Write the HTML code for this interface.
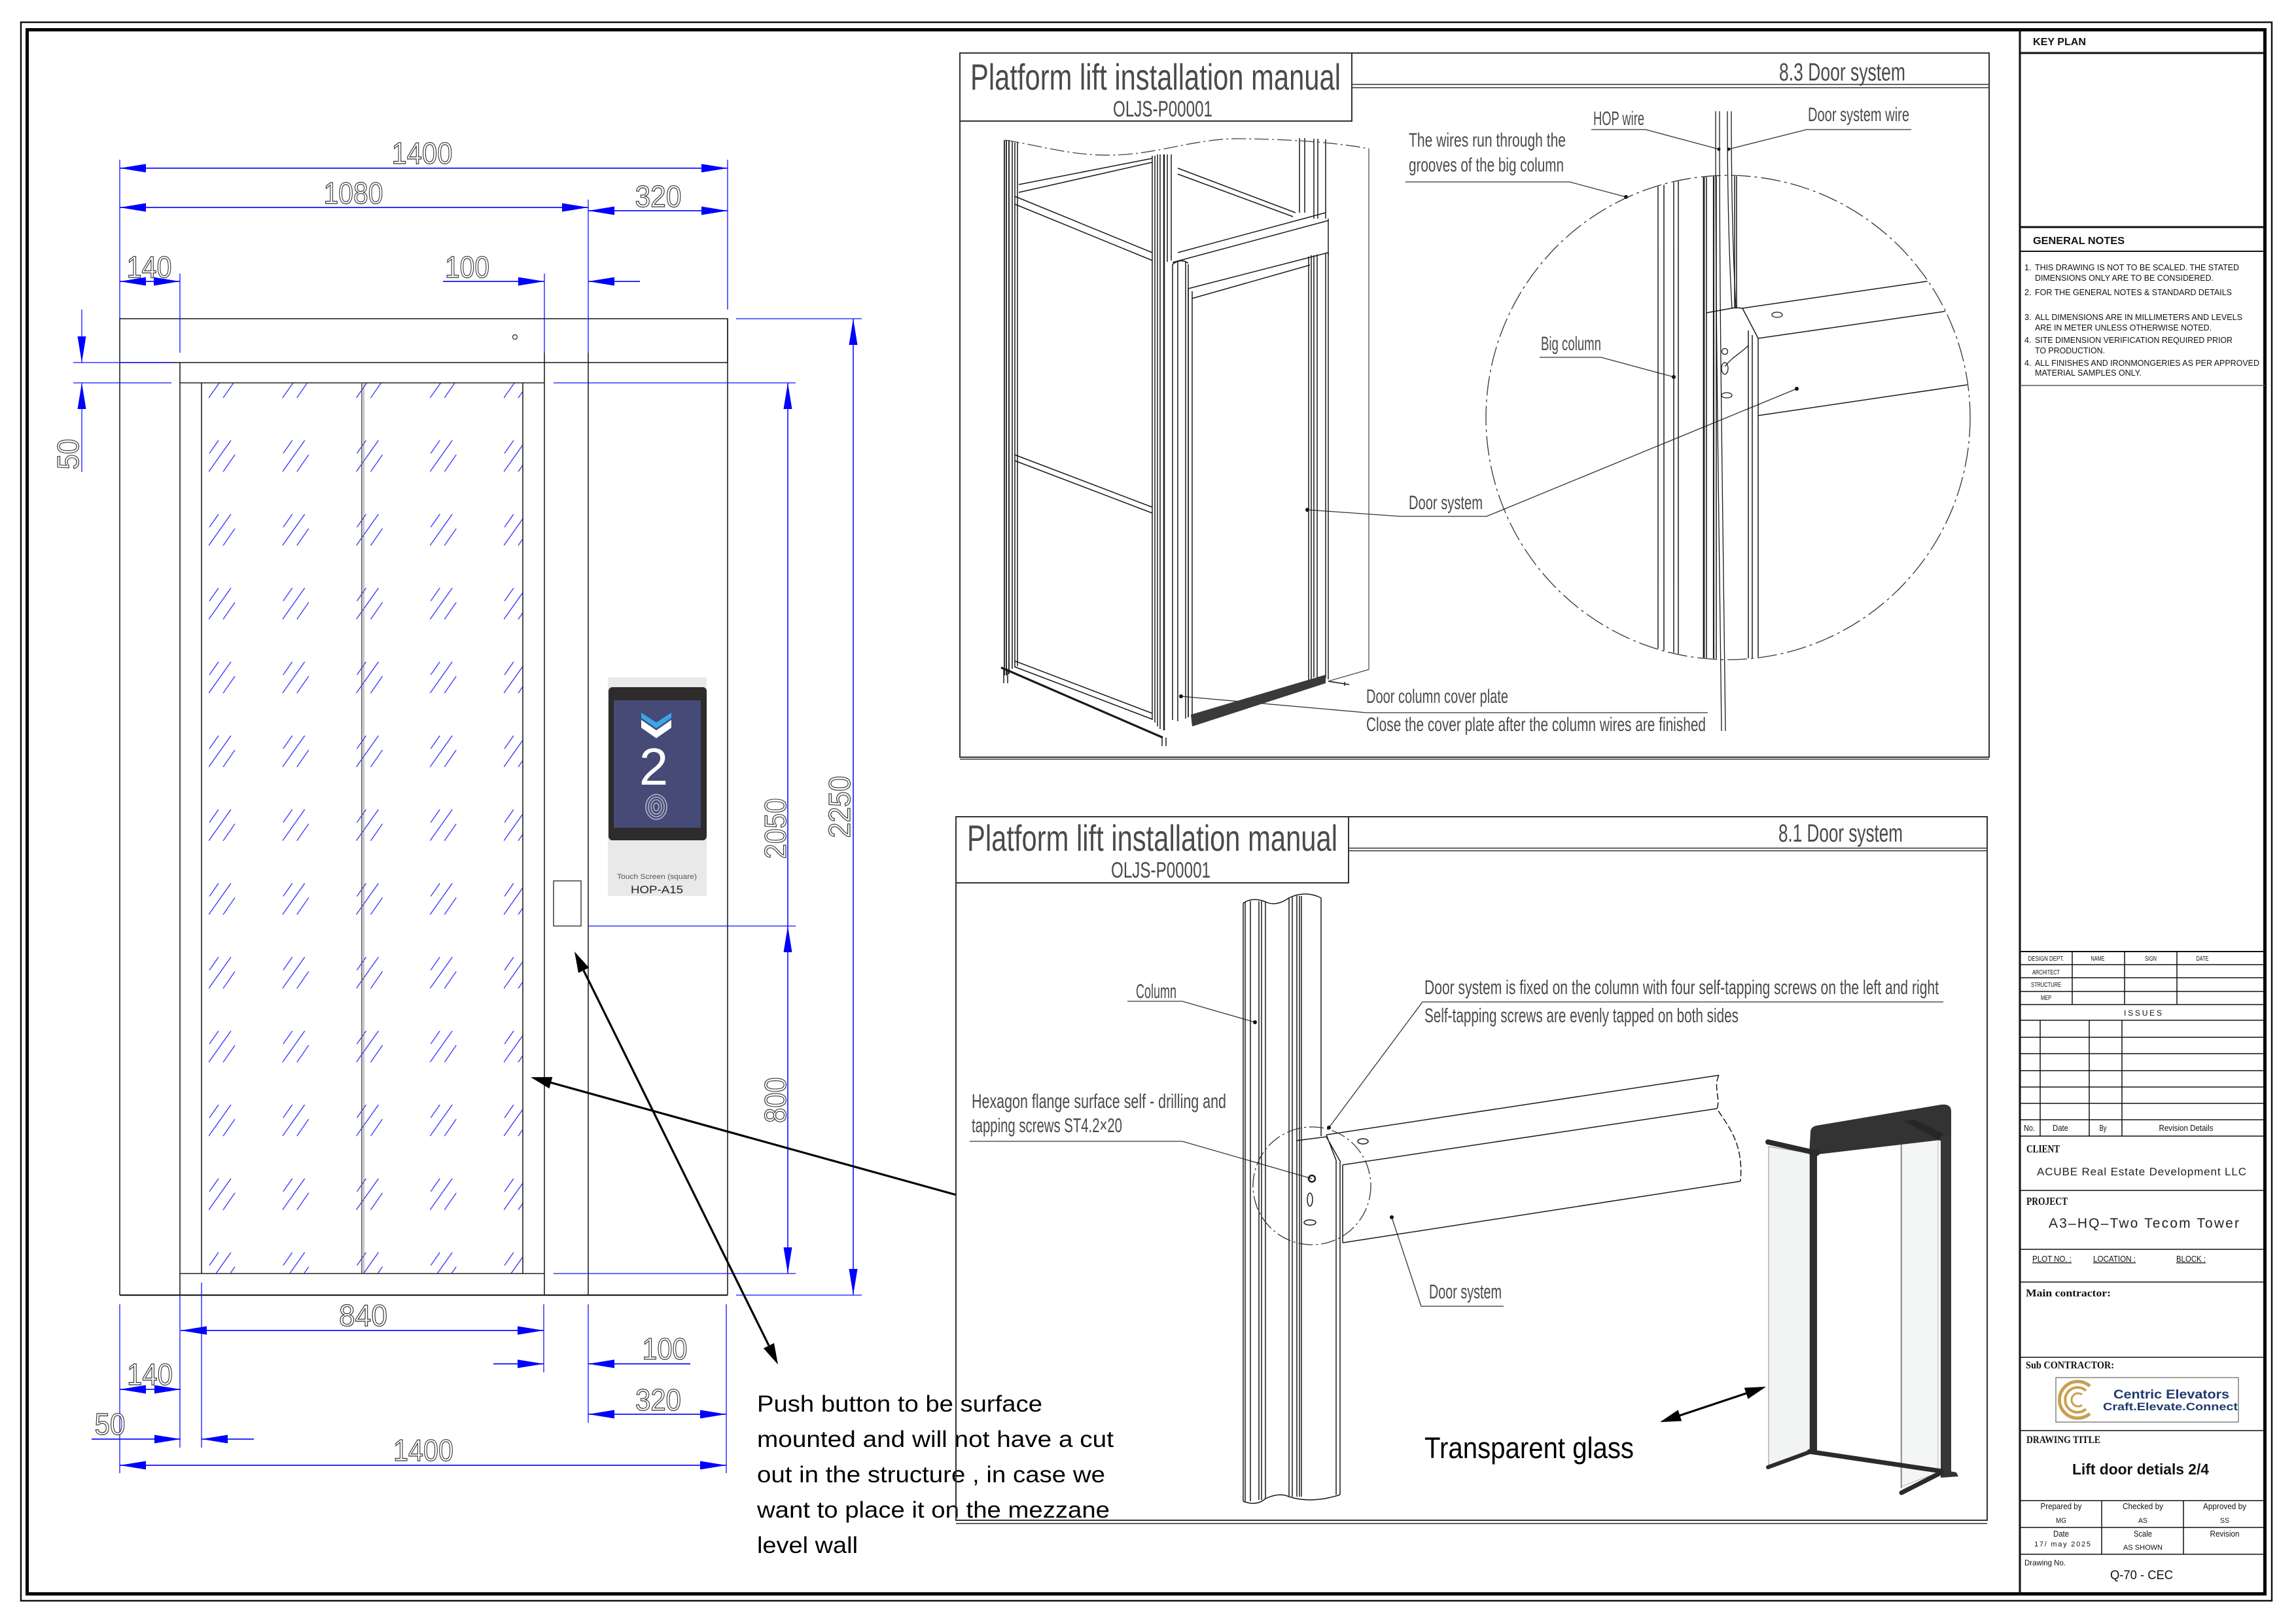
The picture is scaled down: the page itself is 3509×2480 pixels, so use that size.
<!DOCTYPE html>
<html><head><meta charset="utf-8">
<style>
html,body{margin:0;padding:0;background:#fff;}
svg{display:block;}
text{font-family:"Liberation Sans",Arial,sans-serif;}
.cad{fill:#4a4a4a;}
.serif{font-family:"Liberation Serif","Times New Roman",serif;font-weight:bold;}
</style></head><body>
<svg width="3509" height="2480" viewBox="0 0 3509 2480" xmlns="http://www.w3.org/2000/svg">
<defs>
  <pattern id="glassHatch" patternUnits="userSpaceOnUse" x="319" y="560" width="112.75" height="112.8">
    <path d="M0 48 L34 0 M22 48 L40 22 M1 20 L15 0" stroke="#1f1fff" stroke-width="1.2" fill="none"/>
  </pattern>
  <clipPath id="detailTop"><circle cx="2641" cy="638" r="369"/></clipPath>
</defs>
<rect x="0" y="0" width="3509" height="2480" fill="#fff"/>

<!-- ===== Sheet borders ===== -->
<rect x="32" y="34" width="3440" height="2412" fill="none" stroke="#111" stroke-width="2.5"/>
<rect x="41.5" y="45.5" width="3420" height="2390" fill="none" stroke="#000" stroke-width="5"/>

<!-- ===== Title block ===== -->
<g stroke="#111" fill="none">
  <line x1="3087" y1="45" x2="3087" y2="2435" stroke-width="3"/>
  <line x1="3087" y1="81" x2="3462" y2="81" stroke-width="3"/>
  <line x1="3087" y1="347" x2="3462" y2="347" stroke-width="3"/>
  <line x1="3087" y1="384" x2="3462" y2="384" stroke-width="2"/>
  <line x1="3087" y1="589" x2="3462" y2="589" stroke-width="1.5" stroke="#555"/>
  <line x1="3087" y1="1454" x2="3462" y2="1454" stroke-width="2"/>
  <line x1="3087" y1="1474" x2="3462" y2="1474" stroke-width="1.5"/>
  <line x1="3087" y1="1494" x2="3462" y2="1494" stroke-width="1.5"/>
  <line x1="3087" y1="1515" x2="3462" y2="1515" stroke-width="1.5"/>
  <line x1="3087" y1="1535" x2="3462" y2="1535" stroke-width="1.5"/>
  <line x1="3087" y1="1559" x2="3462" y2="1559" stroke-width="1.5"/>
  <line x1="3087" y1="1585" x2="3462" y2="1585" stroke-width="1.5"/>
  <line x1="3087" y1="1610" x2="3462" y2="1610" stroke-width="1.5"/>
  <line x1="3087" y1="1636" x2="3462" y2="1636" stroke-width="1.5"/>
  <line x1="3087" y1="1661" x2="3462" y2="1661" stroke-width="1.5"/>
  <line x1="3087" y1="1686" x2="3462" y2="1686" stroke-width="1.5"/>
  <line x1="3087" y1="1711" x2="3462" y2="1711" stroke-width="1.5"/>
  <line x1="3087" y1="1736" x2="3462" y2="1736" stroke-width="1.5"/>
  <line x1="3087" y1="1819" x2="3462" y2="1819" stroke-width="1.5"/>
  <line x1="3087" y1="1909" x2="3462" y2="1909" stroke-width="1.5"/>
  <line x1="3087" y1="1959" x2="3462" y2="1959" stroke-width="1.5"/>
  <line x1="3087" y1="2074" x2="3462" y2="2074" stroke-width="1.5"/>
  <line x1="3087" y1="2186" x2="3462" y2="2186" stroke-width="1.5"/>
  <line x1="3087" y1="2293" x2="3462" y2="2293" stroke-width="1.5"/>
  <line x1="3087" y1="2334" x2="3462" y2="2334" stroke-width="1.5"/>
  <line x1="3087" y1="2375" x2="3462" y2="2375" stroke-width="1.5"/>
  <line x1="3167" y1="1454" x2="3167" y2="1535" stroke-width="1.5"/>
  <line x1="3247" y1="1454" x2="3247" y2="1535" stroke-width="1.5"/>
  <line x1="3327" y1="1454" x2="3327" y2="1535" stroke-width="1.5"/>
  <line x1="3118" y1="1559" x2="3118" y2="1736" stroke-width="1.5"/>
  <line x1="3193" y1="1559" x2="3193" y2="1736" stroke-width="1.5"/>
  <line x1="3243" y1="1559" x2="3243" y2="1736" stroke-width="1.5"/>
  <line x1="3212" y1="2293" x2="3212" y2="2375" stroke-width="1.5"/>
  <line x1="3337" y1="2293" x2="3337" y2="2375" stroke-width="1.5"/>
</g>

<g fill="#111">
  <text x="3107" y="69" font-size="16" font-weight="bold" textLength="81" lengthAdjust="spacingAndGlyphs">KEY PLAN</text>
  <text x="3107" y="373" font-size="16" font-weight="bold" textLength="140" lengthAdjust="spacingAndGlyphs">GENERAL NOTES</text>
  <g font-size="12.5">
    <text x="3094" y="413">1.</text><text x="3110" y="413" textLength="312" lengthAdjust="spacingAndGlyphs">THIS DRAWING IS NOT TO BE SCALED. THE STATED</text>
    <text x="3110" y="429" textLength="273" lengthAdjust="spacingAndGlyphs">DIMENSIONS ONLY ARE TO BE CONSIDERED.</text>
    <text x="3094" y="451">2.</text><text x="3110" y="451" textLength="301" lengthAdjust="spacingAndGlyphs">FOR THE GENERAL NOTES &amp; STANDARD DETAILS</text>
    <text x="3094" y="489">3.</text><text x="3110" y="489" textLength="317" lengthAdjust="spacingAndGlyphs">ALL DIMENSIONS  ARE IN MILLIMETERS AND LEVELS</text>
    <text x="3110" y="505" textLength="270" lengthAdjust="spacingAndGlyphs">ARE IN METER UNLESS OTHERWISE NOTED.</text>
    <text x="3094" y="524">4.</text><text x="3110" y="524" textLength="302" lengthAdjust="spacingAndGlyphs">SITE DIMENSION VERIFICATION REQUIRED PRIOR</text>
    <text x="3110" y="540" textLength="107" lengthAdjust="spacingAndGlyphs">TO PRODUCTION.</text>
    <text x="3094" y="559">4.</text><text x="3110" y="559" textLength="343" lengthAdjust="spacingAndGlyphs">ALL FINISHES AND IRONMONGERIES AS PER APPROVED</text>
    <text x="3110" y="574" textLength="163" lengthAdjust="spacingAndGlyphs">MATERIAL SAMPLES ONLY.</text>
  </g>
  <g font-size="10.5" text-anchor="middle">
    <text x="3127" y="1468" textLength="55" lengthAdjust="spacingAndGlyphs">DESIGN DEPT.</text>
    <text x="3206" y="1468" textLength="21" lengthAdjust="spacingAndGlyphs">NAME</text>
    <text x="3287" y="1468" textLength="18" lengthAdjust="spacingAndGlyphs">SIGN</text>
    <text x="3366" y="1468" textLength="19" lengthAdjust="spacingAndGlyphs">DATE</text>
    <text x="3127" y="1489" textLength="42" lengthAdjust="spacingAndGlyphs">ARCHITECT</text>
    <text x="3127" y="1508" textLength="46" lengthAdjust="spacingAndGlyphs">STRUCTURE</text>
    <text x="3127" y="1528" textLength="16" lengthAdjust="spacingAndGlyphs">MEP</text>
  </g>
  <text x="3275" y="1552" font-size="12" text-anchor="middle" textLength="58" lengthAdjust="spacing">ISSUES</text>
  <g font-size="12.5">
    <text x="3093" y="1728" textLength="17" lengthAdjust="spacingAndGlyphs">No.</text>
    <text x="3149" y="1728" text-anchor="middle" textLength="24" lengthAdjust="spacingAndGlyphs">Date</text>
    <text x="3214" y="1728" text-anchor="middle" textLength="11" lengthAdjust="spacingAndGlyphs">By</text>
    <text x="3341" y="1728" text-anchor="middle" textLength="83" lengthAdjust="spacingAndGlyphs">Revision Details</text>
  </g>
  <text class="serif" x="3097" y="1761" font-size="17" textLength="51" lengthAdjust="spacingAndGlyphs">CLIENT</text>
  <text x="3113" y="1796" font-size="17" textLength="320" lengthAdjust="spacing" fill="#222">ACUBE Real Estate Development LLC</text>
  <text class="serif" x="3097" y="1841" font-size="17" textLength="63" lengthAdjust="spacingAndGlyphs">PROJECT</text>
  <text x="3131" y="1876" font-size="21" textLength="291" lengthAdjust="spacing" fill="#222">A3–HQ–Two Tecom Tower</text>
  <g font-size="13" text-decoration="underline">
    <text x="3106" y="1928" textLength="60" lengthAdjust="spacingAndGlyphs">PLOT NO. :</text>
    <text x="3199" y="1928" textLength="65" lengthAdjust="spacingAndGlyphs">LOCATION :</text>
    <text x="3326" y="1928" textLength="45" lengthAdjust="spacingAndGlyphs">BLOCK :</text>
  </g>
  <text class="serif" x="3096" y="1981" font-size="16" textLength="130" lengthAdjust="spacingAndGlyphs">Main  contractor:</text>
  <text class="serif" x="3096" y="2091" font-size="16" textLength="135" lengthAdjust="spacingAndGlyphs">Sub  CONTRACTOR:</text>
  <text class="serif" x="3097" y="2205" font-size="16" textLength="113" lengthAdjust="spacingAndGlyphs">DRAWING  TITLE</text>
  <text x="3167" y="2253" font-size="23" font-weight="bold" textLength="209" lengthAdjust="spacingAndGlyphs">Lift door detials 2/4</text>
  <g font-size="13" text-anchor="middle">
    <text x="3150" y="2306" textLength="63" lengthAdjust="spacingAndGlyphs">Prepared by</text>
    <text x="3275" y="2306" textLength="62" lengthAdjust="spacingAndGlyphs">Checked by</text>
    <text x="3400" y="2306" textLength="66" lengthAdjust="spacingAndGlyphs">Approved by</text>
    <text x="3150" y="2348" textLength="24" lengthAdjust="spacingAndGlyphs">Date</text>
    <text x="3275" y="2348" textLength="28" lengthAdjust="spacingAndGlyphs">Scale</text>
    <text x="3400" y="2348" textLength="45" lengthAdjust="spacingAndGlyphs">Revision</text>
  </g>
  <g font-size="11" text-anchor="middle">
    <text x="3150" y="2327" textLength="16" lengthAdjust="spacingAndGlyphs">MG</text>
    <text x="3275" y="2327" textLength="14" lengthAdjust="spacingAndGlyphs">AS</text>
    <text x="3400" y="2327" textLength="14" lengthAdjust="spacingAndGlyphs">SS</text>
    <text x="3152" y="2363" textLength="86" lengthAdjust="spacing">17/ may 2025</text>
    <text x="3275" y="2368" textLength="60" lengthAdjust="spacing">AS SHOWN</text>
  </g>
  <text x="3094" y="2392" font-size="12" textLength="63" lengthAdjust="spacingAndGlyphs">Drawing No.</text>
  <text x="3273" y="2413" font-size="19" text-anchor="middle" textLength="96" lengthAdjust="spacingAndGlyphs">Q-70 - CEC</text>
</g>
<!-- logo -->
<rect x="3142" y="2105" width="279" height="68" fill="#fff" stroke="#444" stroke-width="1"/>
<g fill="none" stroke="#c9a04f">
  <path d="M3194 2118 A28 28 0 1 0 3194 2160" stroke-width="5"/>
  <path d="M3188 2125 A19 19 0 1 0 3188 2153" stroke-width="4"/>
  <path d="M3182 2131 A10 10 0 1 0 3182 2147" stroke-width="3"/>
</g>
<text x="3230" y="2137" font-size="19" font-weight="bold" fill="#1e3a6d" textLength="177" lengthAdjust="spacingAndGlyphs">Centric Elevators</text>
<text x="3214" y="2155" font-size="17" font-weight="bold" fill="#1e3a6d" textLength="206" lengthAdjust="spacingAndGlyphs">Craft.Elevate.Connect</text>

<!-- ===== Left elevation drawing ===== -->
<rect x="308" y="585" width="491" height="1361" fill="url(#glassHatch)"/>
<g stroke="#222" stroke-width="1.6" fill="none">
  <rect x="183" y="487" width="929" height="67"/>
  <line x1="183" y1="554" x2="183" y2="1979"/>
  <line x1="275" y1="554" x2="275" y2="1979"/>
  <line x1="275" y1="585" x2="832" y2="585"/>
  <line x1="308" y1="585" x2="308" y2="1946"/>
  <line x1="799" y1="585" x2="799" y2="1946"/>
  <line x1="553" y1="585" x2="553" y2="1946" stroke="#555"/>
  <line x1="556" y1="585" x2="556" y2="1946" stroke="#777" stroke-width="1"/>
  <line x1="832" y1="539" x2="832" y2="1979"/>
  <line x1="899" y1="539" x2="899" y2="1979"/>
  <line x1="1112" y1="487" x2="1112" y2="1979"/>
  <line x1="275" y1="1946" x2="832" y2="1946"/>
  <line x1="183" y1="1979" x2="1112" y2="1979" stroke-width="2.2"/>
  <circle cx="787" cy="515" r="3.5" stroke-width="1.2"/>
  <rect x="846" y="1346" width="42" height="69" stroke-width="1.3"/>
</g>

<!-- HOP panel -->
<rect x="929" y="1035" width="151" height="334" fill="#e9e9e9"/>
<rect x="930" y="1050" width="150" height="234" rx="6" fill="#2d2b2c"/>
<rect x="938" y="1070" width="133" height="195" rx="2" fill="#454a77"/>
<polygon points="980,1089 1003,1104 1026,1089 1026,1097 1003,1113 980,1097" fill="#3aa6e6"/>
<polygon points="980,1100 1003,1116 1026,1100 1026,1112 1003,1128 980,1112" fill="#ffffff"/>
<text x="999" y="1199" font-size="80" fill="#fff" text-anchor="middle">2</text>
<g fill="none" stroke="#b5b7c9" stroke-width="1.6">
  <ellipse cx="1003" cy="1233" rx="4" ry="6"/>
  <ellipse cx="1003" cy="1233" rx="8" ry="11"/>
  <ellipse cx="1003" cy="1233" rx="12" ry="15"/>
  <ellipse cx="1003" cy="1233" rx="16" ry="19"/>
</g>
<text x="1004" y="1343" font-size="11" fill="#555" text-anchor="middle" textLength="122" lengthAdjust="spacingAndGlyphs">Touch Screen (square)</text>
<text x="1004" y="1365" font-size="17" fill="#222" text-anchor="middle" textLength="80" lengthAdjust="spacingAndGlyphs">HOP-A15</text>

<!-- dimensions (blue) -->
<g stroke="#1010ff" stroke-width="1.3" fill="none">
  <line x1="183" y1="244" x2="183" y2="487"/>
  <line x1="1112" y1="244" x2="1112" y2="473"/>
  <line x1="899" y1="305" x2="899" y2="539"/>
  <line x1="275" y1="418" x2="275" y2="539"/>
  <line x1="832" y1="418" x2="832" y2="539"/>
  <line x1="183" y1="257" x2="1112" y2="257" stroke-width="1.8"/>
  <line x1="183" y1="317" x2="899" y2="317" stroke-width="1.8"/>
  <line x1="899" y1="322" x2="1112" y2="322" stroke-width="1.8"/>
  <line x1="183" y1="430" x2="275" y2="430" stroke-width="1.8"/>
  <line x1="677" y1="430" x2="832" y2="430" stroke-width="1.8"/>
  <line x1="899" y1="430" x2="978" y2="430" stroke-width="1.8"/>
  <line x1="125" y1="473" x2="125" y2="554"/>
  <line x1="125" y1="585" x2="125" y2="721"/>
  <line x1="112" y1="554" x2="262" y2="554"/>
  <line x1="112" y1="585" x2="262" y2="585"/>
  <line x1="1125" y1="487" x2="1317" y2="487"/>
  <line x1="846" y1="585" x2="1216" y2="585"/>
  <line x1="900" y1="1415" x2="1216" y2="1415"/>
  <line x1="846" y1="1946" x2="1216" y2="1946"/>
  <line x1="1125" y1="1979" x2="1317" y2="1979"/>
  <line x1="1304" y1="487" x2="1304" y2="1979" stroke-width="1.6"/>
  <line x1="1204" y1="585" x2="1204" y2="1946" stroke-width="1.6"/>
  <line x1="183" y1="1993" x2="183" y2="2251"/>
  <line x1="275" y1="1979" x2="275" y2="2212"/>
  <line x1="308" y1="1960" x2="308" y2="2212"/>
  <line x1="831" y1="1993" x2="831" y2="2097"/>
  <line x1="899" y1="1993" x2="899" y2="2174"/>
  <line x1="1110" y1="1993" x2="1110" y2="2251"/>
  <line x1="276" y1="2033" x2="831" y2="2033" stroke-width="1.8"/>
  <line x1="754" y1="2084" x2="831" y2="2084" stroke-width="1.8"/>
  <line x1="899" y1="2084" x2="1055" y2="2084" stroke-width="1.8"/>
  <line x1="183" y1="2123" x2="276" y2="2123" stroke-width="1.8"/>
  <line x1="899" y1="2161" x2="1110" y2="2161" stroke-width="1.8"/>
  <line x1="140" y1="2199" x2="276" y2="2199" stroke-width="1.8"/>
  <line x1="308" y1="2199" x2="388" y2="2199" stroke-width="1.8"/>
  <line x1="183" y1="2239" x2="1110" y2="2239" stroke-width="1.8"/>
</g>
<g fill="#0000ff">
  <polygon points="183,257 223,250.5 223,263.5"/>
  <polygon points="1112,257 1072,250.5 1072,263.5"/>
  <polygon points="183,317 223,310.5 223,323.5"/>
  <polygon points="899,317 859,310.5 859,323.5"/>
  <polygon points="899,322 939,315.5 939,328.5"/>
  <polygon points="1112,322 1072,315.5 1072,328.5"/>
  <polygon points="183,430 223,423.5 223,436.5"/>
  <polygon points="275,430 235,423.5 235,436.5"/>
  <polygon points="832,430 792,423.5 792,436.5"/>
  <polygon points="899,430 939,423.5 939,436.5"/>
  <polygon points="125,554 118.5,514 131.5,514"/>
  <polygon points="125,585 118.5,625 131.5,625"/>
  <polygon points="1304,487 1297.5,527 1310.5,527"/>
  <polygon points="1304,1979 1297.5,1939 1310.5,1939"/>
  <polygon points="1204,585 1197.5,625 1210.5,625"/>
  <polygon points="1204,1946 1197.5,1906 1210.5,1906"/>
  <polygon points="1204,1415 1197.5,1455 1210.5,1455"/>
  <polygon points="276,2033 316,2026.5 316,2039.5"/>
  <polygon points="831,2033 791,2026.5 791,2039.5"/>
  <polygon points="831,2084 791,2077.5 791,2090.5"/>
  <polygon points="899,2084 939,2077.5 939,2090.5"/>
  <polygon points="183,2123 223,2116.5 223,2129.5"/>
  <polygon points="276,2123 236,2116.5 236,2129.5"/>
  <polygon points="899,2161 939,2154.5 939,2167.5"/>
  <polygon points="1110,2161 1070,2154.5 1070,2167.5"/>
  <polygon points="276,2199 236,2192.5 236,2205.5"/>
  <polygon points="308,2199 348,2192.5 348,2205.5"/>
  <polygon points="183,2239 223,2232.5 223,2245.5"/>
  <polygon points="1110,2239 1070,2232.5 1070,2245.5"/>
</g>
<g font-size="46" text-anchor="middle" fill="#fff" stroke="#333" stroke-width="1.2">
  <text x="645" y="250" textLength="93" lengthAdjust="spacingAndGlyphs">1400</text>
  <text x="540" y="311" textLength="91" lengthAdjust="spacingAndGlyphs">1080</text>
  <text x="1006" y="316" textLength="71" lengthAdjust="spacingAndGlyphs">320</text>
  <text x="228" y="424" textLength="69" lengthAdjust="spacingAndGlyphs">140</text>
  <text x="714" y="424" textLength="68" lengthAdjust="spacingAndGlyphs">100</text>
  <text transform="translate(120,694) rotate(-90)" textLength="47" lengthAdjust="spacingAndGlyphs">50</text>
  <text transform="translate(1201,1266) rotate(-90)" textLength="93" lengthAdjust="spacingAndGlyphs">2050</text>
  <text transform="translate(1299,1233) rotate(-90)" textLength="95" lengthAdjust="spacingAndGlyphs">2250</text>
  <text transform="translate(1201,1681) rotate(-90)" textLength="70" lengthAdjust="spacingAndGlyphs">800</text>
  <text x="555" y="2026" textLength="74" lengthAdjust="spacingAndGlyphs">840</text>
  <text x="1016" y="2077" textLength="69" lengthAdjust="spacingAndGlyphs">100</text>
  <text x="229" y="2116" textLength="70" lengthAdjust="spacingAndGlyphs">140</text>
  <text x="1006" y="2155" textLength="70" lengthAdjust="spacingAndGlyphs">320</text>
  <text x="168" y="2192" textLength="47" lengthAdjust="spacingAndGlyphs">50</text>
  <text x="647" y="2232" textLength="92" lengthAdjust="spacingAndGlyphs">1400</text>
</g>

<!-- black callout arrows -->
<g stroke="#000" stroke-width="3.2" fill="none">
  <line x1="1462" y1="1826" x2="841" y2="1654"/>
  <line x1="892" y1="1483" x2="1175" y2="2056"/>
  <line x1="2567" y1="2163" x2="2669" y2="2129"/>
</g>
<g fill="#000">
  <polygon points="811,1646 844.3,1645.8 839.5,1663.2"/>
  <polygon points="878,1454 900.2,1478.7 884,1486.7"/>
  <polygon points="1189,2085 1183,2052.3 1166.8,2060.3"/>
  <polygon points="2699,2119 2671.5,2137.6 2665.8,2120.6"/>
  <polygon points="2537,2173 2570.2,2171.4 2564.6,2154.4"/>
</g>

<g font-size="35" fill="#000">
  <text x="1157" y="2157" textLength="436" lengthAdjust="spacingAndGlyphs">Push button to be surface</text>
  <text x="1157" y="2211" textLength="545" lengthAdjust="spacingAndGlyphs">mounted and will not have a cut</text>
  <text x="1157" y="2265" textLength="532" lengthAdjust="spacingAndGlyphs">out in the structure , in case we</text>
  <text x="1157" y="2319" textLength="539" lengthAdjust="spacingAndGlyphs">want to place it on the mezzane</text>
  <text x="1157" y="2373" textLength="154" lengthAdjust="spacingAndGlyphs">level wall</text>
</g>

<!-- ===== Top panel (8.3) ===== -->
<g stroke="#333" fill="none" stroke-width="2">
  <rect x="1467" y="81" width="1573" height="1076"/>
  <line x1="1467" y1="1160" x2="3040" y2="1160" stroke-width="1.5"/>
  <rect x="1467" y="81" width="599" height="104"/>
  <line x1="2066" y1="129" x2="3040" y2="129" stroke-width="1.5"/>
  <line x1="2066" y1="134" x2="3040" y2="134" stroke-width="1.5"/>
</g>
<g class="cad">
  <text x="1483" y="137" font-size="56" textLength="566" lengthAdjust="spacingAndGlyphs">Platform lift installation manual</text>
  <text x="1777" y="178" font-size="34" text-anchor="middle" textLength="152" lengthAdjust="spacingAndGlyphs">OLJS-P00001</text>
  <text x="2719" y="123" font-size="38" textLength="193" lengthAdjust="spacingAndGlyphs">8.3  Door system</text>
  <g font-size="30">
    <text x="2435" y="191" textLength="78" lengthAdjust="spacingAndGlyphs">HOP wire</text>
    <text x="2763" y="185" textLength="155" lengthAdjust="spacingAndGlyphs">Door system wire</text>
    <text x="2153" y="224" textLength="240" lengthAdjust="spacingAndGlyphs">The wires run through the</text>
    <text x="2153" y="262" textLength="237" lengthAdjust="spacingAndGlyphs">grooves of the big column</text>
    <text x="2355" y="535" textLength="92" lengthAdjust="spacingAndGlyphs">Big column</text>
    <text x="2153" y="778" textLength="113" lengthAdjust="spacingAndGlyphs">Door system</text>
    <text x="2088" y="1074" textLength="217" lengthAdjust="spacingAndGlyphs">Door column cover plate</text>
    <text x="2088" y="1117" textLength="519" lengthAdjust="spacingAndGlyphs">Close the cover plate after the column wires are finished</text>
  </g>
</g>
<g stroke="#333" stroke-width="1.3" fill="none">
  <path d="M1998 779 L2140 789 L2272 789 L2746 594"/>
  <path d="M1805 1064 L2088 1089 L2610 1089"/>
  <path d="M2148 278 L2399 278 L2485 301"/>
  <path d="M2432 198 L2515 198 L2627 228"/>
  <path d="M2921 198 L2761 198 L2642 228"/>
  <path d="M2353 546 L2447 546 L2558 576"/>
</g>
<g fill="#111">
  <circle cx="1998" cy="779" r="3"/><circle cx="1805" cy="1064" r="3"/>
  <circle cx="2485" cy="301" r="3"/><circle cx="2558" cy="576" r="3"/>
  <circle cx="2746" cy="594" r="3"/><circle cx="2627" cy="228" r="2.5"/><circle cx="2642" cy="228" r="2.5"/>
</g>

<!-- isometric lift -->
<g stroke="#1a1a1a" stroke-width="1.5" fill="none">
  <path d="M1535 214 V1032 M1538 214 V1032 M1542 214 V1030" stroke-width="1.8"/>
  <path d="M1547 216 V1022 M1551 218 V1020 M1555 218 V1018"/>
  <path d="M1551 300 L1761 386 M1551 312 L1761 398"/>
  <path d="M1557 282 L1761 242 M1557 294 L1761 248"/>
  <path d="M1551 695 L1761 775 M1551 704 L1761 784"/>
  <path d="M1551 1010 L1761 1090 M1551 1019 L1761 1099"/>
  <path d="M1761 238 V1100 M1765 238 V1104 M1769 236 V1110 M1773 236 V1114 M1784 236 V400 M1790 236 V398"/>
  <path d="M1779 236 V1116" stroke-width="2.5"/>
  <path d="M1792 404 V1100 M1800 398 V1102 M1812 400 V1098 M1816 404 V1096 M1792 404 Q1804 394 1816 402"/>
  <path d="M1800 257 L1980 325 M1800 266 L1976 331"/>
  <path d="M1986 211 V325 M1994 211 V325 M2008 212 V334 M2014 212 V334 M2026 213 V334"/>
  <path d="M1800 386 L2026 325 M1792 401 L2030 337 M1816 441 L2030 386 M2030 334 V390"/>
  <path d="M1816 441 V1096 M1822 445 V1094 M1822 456 L2002 405 M2000 392 V1040 M2004 390 V1038"/>
  <path d="M2008 390 V1035 M2013 389 V1035 M2026 387 V1036 M2030 386 V1038"/>
  <path d="M2092 227 V1023 L2030 1041" stroke="#444" stroke-width="1.2"/>
  <path d="M1530 1020 L1777 1127" stroke-width="3.2"/>
  <path d="M1534 1022 V1044 M1540 1022 V1044 M1776 1127 V1140 M1782 1127 V1140 M2030 1041 L2062 1046 M2055 1042 V1048"/>
  <path d="M1536 214 C1600 225 1640 238 1700 237 C1770 236 1830 210 1900 212 C1980 213 2040 218 2092 227" stroke="#444" stroke-width="1.3" stroke-dasharray="22 5 3 5"/>
</g>
<polygon points="1820,1092 2026,1031 2026,1044 1822,1110" fill="#3a3a3a"/>

<!-- detail circle top -->
<circle cx="2641" cy="638" r="370" fill="none" stroke="#333" stroke-width="1.3" stroke-dasharray="30 6 4 6"/>
<g clip-path="url(#detailTop)" stroke="#1a1a1a" stroke-width="1.5" fill="none">
  <path d="M2534 260 V1020 M2543 260 V1020 M2558 260 V1020 M2565 260 V1020"/>
  <path d="M2604 260 V1020" stroke-width="2.8"/>
  <path d="M2608 260 V1020 M2623 260 V1020"/>
  <path d="M2619 260 V1020" stroke-width="2.2"/>
  <path d="M2651 260 V470 M2654 260 V470"/>
  <path d="M2608 478 L2652 470 L2663 471 L2687 517 V1020 M2672 505 V1020 M2678 512 V1020"/>
  <path d="M2663 471 L3020 419 M2687 517 L3020 469 M2687 635 L3020 586"/>
</g>
<g stroke="#1a1a1a" stroke-width="1.3" fill="none">
  <circle cx="2636" cy="537" r="4.5"/>
  <ellipse cx="2636" cy="563" rx="5" ry="9"/>
  <ellipse cx="2639" cy="604" rx="8" ry="4"/>
  <ellipse cx="2716" cy="481" rx="8" ry="4"/>
  <path d="M2622 170 C2622 500 2626 700 2631 1117 M2628 170 C2628 500 2632 700 2637 1117"/>
  <path d="M2640 170 C2640 300 2643 400 2647 472 M2646 170 C2646 300 2649 400 2653 472"/>
  <path d="M2636 560 C2648 545 2660 540 2672 528"/>
</g>

<!-- ===== Bottom panel (8.1) ===== -->
<g stroke="#333" fill="none" stroke-width="2">
  <rect x="1461" y="1248" width="1576" height="1075"/>
  <line x1="1461" y1="2328" x2="3037" y2="2328" stroke-width="1.5"/>
  <rect x="1461" y="1248" width="600" height="101"/>
  <line x1="2061" y1="1296" x2="3037" y2="1296" stroke-width="1.5"/>
  <line x1="2061" y1="1300" x2="3037" y2="1300" stroke-width="1.5"/>
</g>
<g class="cad">
  <text x="1478" y="1300" font-size="56" textLength="566" lengthAdjust="spacingAndGlyphs">Platform lift installation manual</text>
  <text x="1774" y="1341" font-size="34" text-anchor="middle" textLength="152" lengthAdjust="spacingAndGlyphs">OLJS-P00001</text>
  <text x="2718" y="1286" font-size="38" textLength="190" lengthAdjust="spacingAndGlyphs">8.1  Door system</text>
  <g font-size="31">
    <text x="1736" y="1525" textLength="62" lengthAdjust="spacingAndGlyphs">Column</text>
    <text x="1485" y="1693" textLength="389" lengthAdjust="spacingAndGlyphs">Hexagon flange surface self - drilling and</text>
    <text x="1485" y="1730" textLength="230" lengthAdjust="spacingAndGlyphs">tapping screws ST4.2×20</text>
    <text x="2177" y="1519" textLength="786" lengthAdjust="spacingAndGlyphs">Door system is fixed on the column with four self-tapping screws on the left and right</text>
    <text x="2177" y="1562" textLength="480" lengthAdjust="spacingAndGlyphs">Self-tapping screws are evenly tapped on both sides</text>
    <text x="2184" y="1984" textLength="111" lengthAdjust="spacingAndGlyphs">Door system</text>
  </g>
</g>
<g stroke="#333" stroke-width="1.3" fill="none">
  <path d="M1723 1530 L1807 1530 L1918 1562"/>
  <path d="M1482 1744 L1807 1744 L2005 1801"/>
  <path d="M2970 1531 L2174 1531 L2031 1723"/>
  <path d="M2298 1996 L2172 1996 L2127 1860"/>
</g>
<g fill="#111">
  <circle cx="1918" cy="1562" r="3"/><circle cx="2031" cy="1723" r="3"/><circle cx="2127" cy="1860" r="3"/>
</g>
<g stroke="#1a1a1a" stroke-width="1.5" fill="none">
  <path d="M1900 1380 V2294 M1903 1378 V2294 M1911 1377 V2294 M1924 1377 V2292 M1928 1377 V2292 M1934 1378 V2290"/>
  <path d="M1970 1372 V2287 M1975 1370 V2287 M1982 1369 V2287 M1986 1369 V2287 M1989 1369 V2287"/>
  <path d="M2019 1372 V1736 M2042 1773 V2284 M2048 1776 V2284"/>
  <path d="M1900 1380 Q1915 1370 1934 1378 Q1950 1386 1970 1372 Q1995 1360 2019 1372"/>
  <path d="M1900 2294 Q1920 2302 1934 2290 Q1955 2280 1970 2287 Q2005 2298 2048 2284"/>
  <path d="M1981 1743 L2027 1737 L2049 1776 M2027 1734 L2042 1773"/>
  <path d="M2027 1734 L2627 1643 M2052 1780 L2624 1694 M2052 1899 L2660 1805 M2052 1780 V1899"/>
  <path d="M2627 1643 C2618 1660 2630 1680 2624 1694 C2640 1720 2665 1745 2660 1805" stroke-dasharray="10 4"/>
  <ellipse cx="2083" cy="1744" rx="8" ry="4"/>
  <circle cx="2005" cy="1801" r="5" stroke-width="2.5"/>
  <ellipse cx="2002" cy="1833" rx="4" ry="10"/>
  <ellipse cx="2002" cy="1868" rx="9" ry="4"/>
</g>
<circle cx="2005" cy="1812" r="90" fill="none" stroke="#333" stroke-width="1.3" stroke-dasharray="22 5 3 5"/>

<!-- glass door picture -->
<polygon points="2703,1752 2766,1762 2766,2221 2703,2242" fill="#f2f3f3" stroke="#a0a0a0" stroke-width="1.2"/>
<polygon points="2905,1715 2962,1738 2962,2250 2905,2272" fill="#f4f5f5" stroke="#b0b0b0" stroke-width="1"/>
<line x1="2906" y1="1715" x2="2906" y2="2274" stroke="#999" stroke-width="2"/>
<path d="M2767 1730 Q2767 1722 2776 1720 L2966 1688 Q2982 1686 2982 1698 L2982 1740 L2777 1764 L2765 1764 Z" fill="#333"/>
<polygon points="2910,1713 2925,1711 2970,1732 2967,1744" fill="#262626"/>
<rect x="2766" y="1760" width="11" height="462" fill="#2e2e2e"/>
<rect x="2966" y="1736" width="16" height="515" fill="#363636"/>
<polygon points="2966,2245 2990,2250 2993,2256 2966,2258" fill="#333"/>
<g stroke="#2b2b2b" fill="none" stroke-linecap="round">
  <line x1="2702" y1="1745" x2="2777" y2="1762" stroke-width="8"/>
  <line x1="2702" y1="2242" x2="2765" y2="2219" stroke-width="6"/>
  <line x1="2765" y1="2218" x2="2967" y2="2248" stroke-width="7"/>
  <line x1="2906" y1="2281" x2="2967" y2="2250" stroke-width="7"/>
</g>
<text x="2177" y="2228" font-size="45" fill="#000" textLength="320" lengthAdjust="spacingAndGlyphs">Transparent glass</text>

</svg>
</body></html>
